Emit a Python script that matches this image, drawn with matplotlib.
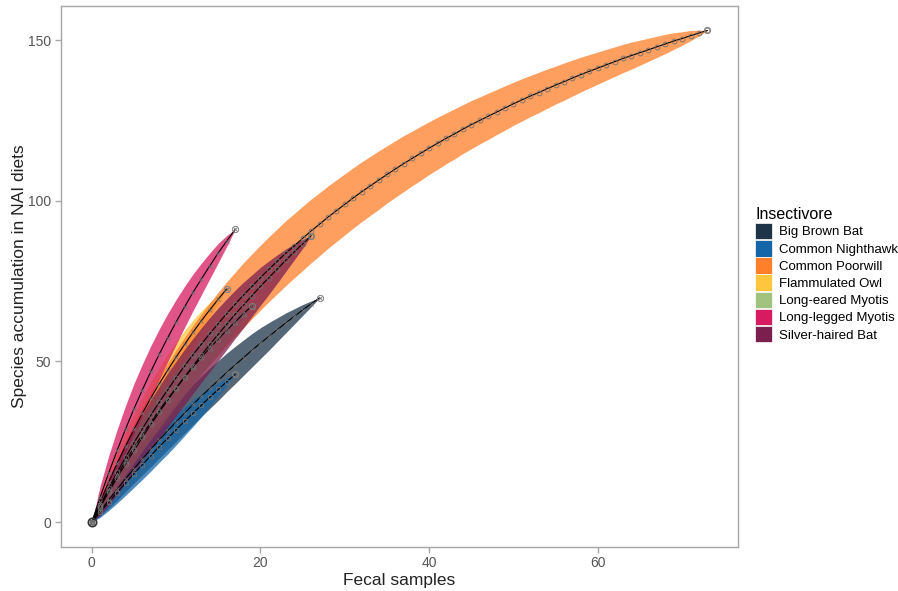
import numpy as np
import matplotlib
matplotlib.use("Agg")
import matplotlib.pyplot as plt
from matplotlib.patches import Patch

plt.rcParams["font.family"] = ["Liberation Sans", "DejaVu Sans"]

# species accumulation (mean richness at 0..n fecal samples) and ribbon half-widths
species = ["Big Brown Bat", "Common Nighthawk", "Common Poorwill", "Flammulated Owl",
           "Long-eared Myotis", "Long-legged Myotis", "Silver-haired Bat"]
colors = ["#1E3549", "#1566A8", "#FF7F2A", "#FFC53D", "#A2C27F", "#D81B60", "#7B1F4E"]
markers = ["x", "s", "o", "x", "^", "x", "o"]

big_brown = [0, 3.5, 6.9, 10.2, 13.5, 16.6, 19.7, 22.7, 25.6, 28.4, 31.2, 33.9, 36.6, 39.2,
             41.7, 44.1, 46.6, 48.9, 51.2, 53.5, 55.7, 57.8, 59.9, 62.0, 64.0, 66.0, 67.9, 69.8]
big_brown_hw = [0, 1.6, 2.6, 3.4, 4.0, 4.5, 5.0, 5.4, 5.7, 5.9, 6.1, 6.2, 6.3, 6.3,
                6.3, 6.2, 6.0, 5.8, 5.5, 5.2, 4.8, 4.3, 3.7, 3.1, 2.4, 1.7, 0.9, 0]

nighthawk = [0, 3.1, 6.2, 9.2, 12.2, 15.1, 17.9, 20.7, 23.5, 26.1, 28.8, 31.4, 33.9, 36.4,
             38.9, 41.3, 43.7, 46.0]
nighthawk_hw = [0, 1.6, 2.6, 3.3, 3.9, 4.3, 4.6, 4.8, 4.9, 4.9, 4.8, 4.5, 4.1, 3.6,
                2.9, 2.1, 1.1, 0]

poorwill = [0, 5.4, 10.5, 15.5, 20.2, 24.7, 29.1, 33.3, 37.3, 41.2, 45.0, 48.6, 52.1, 55.4,
            58.7, 61.8, 64.9, 67.8, 70.7, 73.4, 76.1, 78.7, 81.2, 83.7, 86.0, 88.3, 90.6, 92.7,
            94.9, 96.9, 98.9, 100.9, 102.8, 104.6, 106.4, 108.2, 109.9, 111.6, 113.2, 114.8,
            116.4, 117.9, 119.4, 120.8, 122.3, 123.7, 125.0, 126.3, 127.6, 128.9, 130.2, 131.4,
            132.6, 133.7, 134.9, 136.0, 137.1, 138.2, 139.3, 140.3, 141.3, 142.3, 143.3, 144.3,
            145.2, 146.1, 147.0, 147.9, 148.8, 149.7, 150.5, 151.4, 152.2, 153.0]
poorwill_hw = [0, 1.5, 2.9, 4.1, 5.1, 5.9, 6.6, 7.2, 7.7, 8.2, 8.6, 8.9, 9.2, 9.4,
               9.6, 9.8, 9.9, 10.0, 10.1, 10.1, 10.1, 10.1, 10.1, 10.1, 10.0, 10.0, 9.9, 9.8,
               9.7, 9.6, 9.5, 9.4, 9.3, 9.2, 9.1, 8.9, 8.8, 8.7, 8.5, 8.4,
               8.2, 8.1, 7.9, 7.8, 7.6, 7.5, 7.3, 7.2, 7.0, 6.9, 6.7, 6.6,
               6.4, 6.3, 6.1, 5.9, 5.8, 5.6, 5.4, 5.2, 5.0, 4.8, 4.6, 4.4,
               4.2, 3.9, 3.6, 3.3, 3.0, 2.6, 2.1, 1.6, 0.9, 0]

flammulated = [0, 6.4, 12.5, 18.3, 23.7, 28.9, 33.9, 38.6, 43.1, 47.3, 51.4, 55.3, 59.1,
               62.7, 66.1, 69.4, 72.6]
flammulated_hw = [0, 2.0, 3.0, 3.8, 4.3, 4.7, 5.0, 5.1, 5.1, 5.0, 4.7, 4.3, 3.8,
                  3.1, 2.3, 1.3, 0]

long_eared = [0, 5.1, 10.0, 14.6, 19.0, 23.2, 27.3, 31.1, 34.8, 38.4, 41.8, 45.1, 48.2,
              51.3, 54.2, 57.0, 59.7, 62.3, 64.9, 67.3]
long_eared_hw = [0, 2.0, 3.0, 3.7, 4.3, 4.8, 5.1, 5.4, 5.5, 5.6, 5.6, 5.5, 5.3,
                 5.0, 4.6, 4.0, 3.3, 2.4, 1.3, 0]

long_legged = [0, 7.9, 15.3, 22.3, 29.0, 35.3, 41.2, 46.9, 52.3, 57.4, 62.3, 67.0, 71.5,
               75.7, 79.8, 83.8, 87.5, 91.1]
long_legged_hw = [0, 3.5, 5.3, 6.5, 7.3, 7.8, 8.0, 8.0, 7.8, 7.5, 7.0, 6.4, 5.7,
                  4.9, 4.0, 3.0, 1.7, 0]

silver_haired = [0, 4.7, 9.3, 13.8, 18.1, 22.3, 26.4, 30.4, 34.2, 38.0, 41.6, 45.2, 48.6,
                 52.0, 55.3, 58.5, 61.6, 64.7, 67.6, 70.5, 73.4, 76.1, 78.8, 81.5, 84.1,
                 86.6, 89.1]
silver_haired_hw = [0, 2.5, 4.0, 5.1, 6.0, 6.7, 7.3, 7.8, 8.1, 8.4, 8.5, 8.6, 8.6,
                    8.5, 8.4, 8.2, 7.9, 7.5, 7.1, 6.5, 5.9, 5.2, 4.4, 3.5, 2.5,
                    1.4, 0]

means = [big_brown, nighthawk, poorwill, flammulated, long_eared, long_legged, silver_haired]
widths = [big_brown_hw, nighthawk_hw, poorwill_hw, flammulated_hw, long_eared_hw,
          long_legged_hw, silver_haired_hw]

fig = plt.figure(figsize=(8.98, 5.91), dpi=100)
ax = fig.add_axes([0.068, 0.075, 0.754, 0.915])

# ribbons first (owl under poorwill), then lines on top
draw_order = [0, 1, 3, 2, 4, 5, 6]
for i in draw_order:
    x = np.arange(len(means[i]))
    m = np.array(means[i])
    w = np.array(widths[i])
    ax.fill_between(x, m - w, m + w, color=colors[i], alpha=0.75, lw=0)

for m, mk in zip(means, markers):
    x = np.arange(len(m))
    ax.plot(x, m, color="black", lw=0.8, zorder=3)
    ax.plot(x, m, ls="none", marker=mk, ms=3.5, mfc="none", mec="#707070", mew=0.6, zorder=4)
    ax.plot(x[-1], m[-1], ls="none", marker="o", ms=4.5, mfc="none", mec="#808080", mew=0.7, zorder=4)

ax.plot(0, 0, ls="none", marker="o", ms=6, mfc="none", mec="#333333", mew=1.2, zorder=5)

ax.set_xlim(-3.65, 76.65)
ax.set_ylim(-7.65, 160.65)
ax.set_xticks([0, 20, 40, 60])
ax.set_yticks([0, 50, 100, 150])

for s in ax.spines.values():
    s.set_color("#A6A6A6")
    s.set_linewidth(1.0)
ax.tick_params(colors="#A6A6A6", labelcolor="#555555", labelsize=10, length=4, width=1, pad=3)

ax.set_xlabel("Fecal samples", fontsize=12.5, color="#222222", labelpad=2)
ax.set_ylabel("Species accumulation in NAI diets", fontsize=12.5, color="#222222", labelpad=1)

handles = [Patch(facecolor=c, edgecolor="white", lw=0.5) for c in colors]
leg = fig.legend(handles, species, loc="center left", bbox_to_anchor=(0.835, 0.535),
                 title="Insectivore", fontsize=9.5, title_fontsize=11.5, frameon=False,
                 handlelength=1.3, handleheight=1.55, labelspacing=0.05, handletextpad=0.5,
                 borderaxespad=0)
leg._legend_box.align = "left"

fig.savefig("out.png", dpi=100)
